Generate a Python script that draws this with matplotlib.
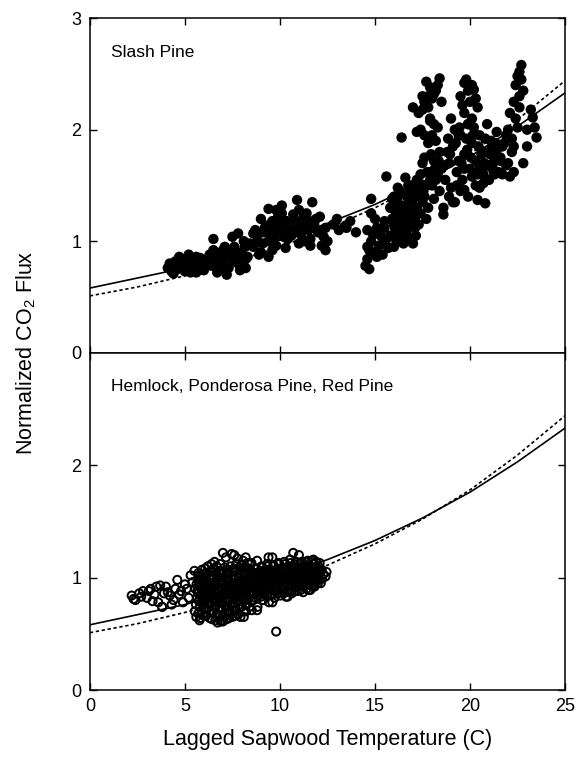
#  Normalized CO2 flux vs lagged sapwood temperature
#   two stacked panels: Slash Pine (filled) and Hemlock / Ponderosa / Red Pine (open)

import matplotlib
matplotlib.use("Agg")
import matplotlib.pyplot as plt

plt.rcParams['font.family'] = ['Liberation Sans', 'DejaVu Sans']
plt.rcParams['mathtext.default'] = 'regular'

# fitted curves, every 2.5 C
curve_temp = [0, 2.5, 5, 7.5, 10, 12.5, 15, 17.5, 20, 22.5, 25]
solid_fit = [0.58, 0.67, 0.76, 0.88, 1.01, 1.16, 1.33, 1.53, 1.76, 2.03, 2.33]
dotted_fit = [0.51, 0.59, 0.69, 0.81, 0.95, 1.11, 1.30, 1.52, 1.78, 2.09, 2.44]

# ---- Slash Pine ----
slash_temp = [
    4.1, 4.2, 4.3, 4.4, 4.5, 4.6, 4.7, 4.8, 4.9, 5.0, 5.1, 5.2, 5.3, 5.4, 5.5, 5.6, 5.7, 5.8, 5.9, 6.0,
    4.4, 4.7, 5.0, 5.2, 5.5, 5.8, 4.9, 5.3, 5.6, 6.0,
    6.2, 6.4, 6.6, 6.8, 7.0, 7.2, 7.4, 7.6, 7.8, 8.0, 8.2, 8.4, 6.5, 6.9, 7.3, 7.7, 8.1, 6.7, 7.1, 7.5,
    7.9, 8.3, 6.3, 7.0, 7.6, 8.2, 7.8, 7.5, 6.5, 8.6,
    8.6, 8.8, 9.0, 9.2, 9.4, 9.6, 9.8, 10.0, 10.2, 10.4, 8.7, 9.1, 9.5, 9.9, 10.3, 8.9, 9.3, 9.7, 10.1, 10.5,
    9.0, 9.6, 10.2, 8.8, 9.4, 10.0, 9.4, 10.1, 10.9, 9.8,
    10.6, 10.8, 11.0, 11.2, 11.4, 11.6, 11.8, 12.0, 12.2, 12.4, 10.7, 11.1, 11.5, 11.9, 12.3, 10.9, 11.3, 11.7, 12.1, 11.0,
    11.6, 12.5, 11.7, 11.2, 12.4,
    12.8, 13.1, 13.4, 13.7, 14.0, 13.0, 13.5,
    14.5, 14.6, 14.7, 14.8, 14.9, 15.0, 15.1, 15.2, 15.3, 15.4, 15.5, 15.6, 15.7, 14.6, 14.8, 15.0, 15.2, 15.4, 14.7, 15.1,
    15.5, 14.8, 15.6, 14.6,
    15.8, 15.9, 16.0, 16.1, 16.2, 16.3, 16.4, 16.5, 16.6, 16.7, 16.8, 16.9, 17.0, 17.1, 17.2,
    15.9, 16.1, 16.3, 16.5, 16.7, 16.9, 17.1, 16.0, 16.2, 16.4, 16.6, 16.8, 17.0, 17.2,
    16.1, 16.5, 16.9, 16.3, 16.7, 17.1, 16.4, 16.6, 15.8, 16.0,
    17.3, 17.4, 17.5, 17.6, 17.7, 17.8, 17.9, 18.0, 18.1, 18.2, 18.3, 18.4, 18.5,
    17.4, 17.6, 17.8, 18.0, 18.2, 18.4, 17.5, 17.9, 18.3, 17.7, 18.1, 18.6, 17.3, 17.9,
    17.0, 17.3, 17.5, 17.7, 17.9, 18.1, 18.3, 18.4, 17.6, 17.8, 18.0, 18.2, 17.4, 17.6, 17.9, 18.1, 17.2, 17.5, 17.8, 18.5,
    19.5, 19.7, 19.9, 20.1, 20.3, 19.6, 19.8, 20.0, 20.2, 19.7, 20.1, 20.4, 19.9,
    18.7, 18.9, 19.1, 19.3, 19.5, 19.7, 19.9, 20.1, 20.3, 20.5, 20.7, 20.9, 21.1, 21.3, 21.5, 21.7,
    18.8, 19.0, 19.2, 19.4, 19.6, 19.8, 20.0, 20.2, 20.4, 20.6, 20.8, 21.0, 21.2, 21.4, 21.6,
    18.9, 19.3, 19.7, 20.1, 20.5, 20.9, 21.3, 19.1, 19.5, 19.9, 20.3, 20.7, 21.1, 21.5, 18.6, 19.0, 19.4,
    21.6, 21.8, 22.0, 22.2, 22.4, 22.6, 22.7, 22.5, 22.3, 22.1, 21.9, 22.0, 22.2, 22.4, 22.6, 22.8, 22.5, 22.3, 22.7, 22.6,
    21.7, 21.9, 22.1, 22.3, 23.0, 23.2, 23.3, 23.5, 22.8, 23.0, 23.4, 20.7, 20.8, 21.2, 21.4,
    19.7, 20.4, 19.2, 20.5,
    16.05, 16.25, 16.45, 16.65, 16.85, 17.05, 16.15, 16.35, 16.55, 16.75, 16.95, 17.15,
    18.65, 18.95, 19.25, 19.55, 19.85, 20.15, 20.45, 20.75, 21.05, 21.35, 18.85, 19.45, 20.05, 20.65, 21.25,
    17.35, 17.55, 17.75, 17.95, 18.15, 18.35,
    4.45, 4.85, 5.25, 5.65, 6.15, 6.55, 6.95, 7.35, 7.75, 8.15,
    9.15, 9.55, 9.95, 10.35, 10.75, 11.15, 11.55, 11.95,
]
slash_flux = [
    0.76, 0.80, 0.73, 0.78, 0.82, 0.75, 0.79, 0.84, 0.77, 0.81, 0.74, 0.79, 0.83, 0.76, 0.80, 0.72, 0.78, 0.85, 0.75, 0.81,
    0.71, 0.86, 0.73, 0.88, 0.84, 0.77, 0.80, 0.72, 0.86, 0.74,
    0.82, 0.78, 0.88, 0.74, 0.92, 0.70, 0.85, 0.95, 0.80, 0.90, 0.76, 0.98, 0.92, 0.83, 0.76, 0.88, 1.00, 0.72, 0.95, 0.82,
    0.74, 0.86, 0.88, 0.79, 0.92, 0.84, 1.07, 1.04, 1.02, 1.07,
    0.95, 1.05, 0.90, 1.12, 1.00, 1.18, 0.96, 1.08, 1.15, 1.02, 1.10, 0.98, 1.06, 1.22, 0.94, 0.88, 1.14, 1.02, 1.25, 1.10,
    1.20, 0.92, 1.04, 1.00, 0.86, 1.16, 1.29, 1.32, 1.37, 1.28,
    1.05, 1.18, 0.98, 1.12, 1.25, 1.02, 1.15, 1.08, 0.96, 1.12, 1.24, 1.06, 1.10, 1.20, 1.04, 1.12, 1.00, 1.14, 1.22, 1.28,
    0.96, 1.00, 1.35, 1.20, 0.92,
    1.15, 1.10, 1.13, 1.18, 1.08, 1.20, 1.12,
    0.78, 0.84, 0.92, 1.00, 1.06, 0.90, 1.12, 0.96, 1.05, 0.88, 1.18, 1.02, 0.94, 1.10, 1.25, 1.20, 1.08, 0.98, 0.75, 0.86,
    1.12, 1.38, 1.58, 0.95,
    1.05, 1.20, 0.95, 1.32, 1.10, 1.00, 1.25, 1.42, 1.15, 1.05, 1.35, 1.22, 1.48, 1.12, 1.30,
    1.38, 1.02, 1.45, 0.98, 1.28, 1.02, 1.40, 1.15, 1.48, 1.08, 1.57, 1.18, 0.98, 1.55,
    1.25, 1.30, 1.50, 1.18, 1.40, 1.20, 1.93, 1.00, 1.30, 1.40,
    1.45, 1.60, 1.35, 1.75, 1.50, 1.88, 1.62, 1.95, 1.72, 1.55, 2.02, 1.80, 1.65,
    1.25, 1.40, 1.30, 1.50, 1.90, 1.45, 1.70, 2.08, 1.60, 1.20, 1.38, 1.24, 1.15, 1.55,
    2.20, 2.15, 2.30, 2.43, 2.38, 2.32, 2.40, 2.46, 2.25, 2.20, 2.28, 2.35, 2.00, 1.95, 2.10, 2.05, 1.98, 2.18, 2.30, 2.25,
    2.30, 2.42, 2.35, 2.40, 2.28, 2.22, 2.45, 2.25, 2.36, 2.15, 2.10, 2.20, 2.05,
    1.55, 1.70, 1.85, 1.62, 1.95, 1.78, 2.05, 1.88, 1.72, 1.95, 1.80, 1.68, 1.90, 1.75, 1.62, 1.85,
    1.80, 1.48, 2.00, 1.72, 1.55, 1.92, 1.65, 2.02, 1.60, 1.78, 1.92, 1.55, 1.70, 1.98, 1.72,
    1.40, 1.50, 1.65, 1.58, 1.65, 2.05, 1.60, 1.35, 1.45, 1.40, 1.50, 1.60, 1.82, 1.75, 1.30, 2.10, 1.95,
    1.75, 1.88, 2.00, 1.92, 2.10, 2.30, 2.58, 2.48, 2.25, 2.15, 1.95, 1.70, 1.80, 2.40, 2.20, 2.35, 2.02, 1.62, 2.45, 2.52,
    1.60, 1.68, 1.58, 1.85, 2.00, 2.18, 2.11, 1.93, 1.70, 1.85, 2.02, 1.52, 1.34, 1.65, 1.82,
    1.46, 1.37, 1.35, 1.48,
    1.12, 1.22, 1.32, 1.10, 1.42, 1.25, 1.38, 1.12, 1.20, 1.50, 1.35, 1.05,
    1.68, 1.78, 1.88, 1.70, 1.82, 1.95, 1.85, 1.70, 1.78, 1.88, 1.92, 2.02, 1.75, 1.62, 1.62,
    1.52, 1.45, 1.62, 1.78, 1.65, 1.72,
    0.79, 0.78, 0.81, 0.79, 0.84, 0.80, 0.86, 0.90, 0.86, 0.95,
    1.08, 1.12, 1.10, 1.18, 1.12, 1.15, 1.18, 1.10,
]

# ---- Hemlock, Ponderosa Pine, Red Pine ----
hem_temp = [
    2.2, 2.4, 2.6, 2.8, 3.0, 3.2, 3.4, 3.6, 3.8, 4.0, 4.2, 4.4, 4.6, 4.8, 5.0, 5.2, 5.4,
    2.3, 2.7, 3.1, 3.5, 3.9, 4.3, 4.7, 5.1, 3.3, 3.7, 4.1, 4.5, 4.9, 5.3,
    5.52, 5.58, 5.64, 5.70, 5.55, 5.61, 5.67, 5.73, 5.50, 5.60, 5.66, 5.75,
    5.82, 5.88, 5.94, 6.00, 5.85, 5.91, 5.97, 6.03, 5.80, 5.90, 5.96, 6.05,
    6.12, 6.18, 6.24, 6.30, 6.15, 6.21, 6.27, 6.33, 6.10, 6.20, 6.26, 6.35,
    6.42, 6.48, 6.54, 6.60, 6.45, 6.51, 6.57, 6.63, 6.40, 6.50, 6.56, 6.65,
    6.72, 6.78, 6.84, 6.90, 6.75, 6.81, 6.87, 6.93, 6.70, 6.80, 6.86, 6.95,
    7.02, 7.08, 7.14, 7.20, 7.05, 7.11, 7.17, 7.23, 7.00, 7.10, 7.16, 7.25,
    7.32, 7.38, 7.44, 7.50, 7.35, 7.41, 7.47, 7.53, 7.30, 7.40, 7.46, 7.55,
    7.62, 7.68, 7.74, 7.80, 7.65, 7.71, 7.77, 7.83, 7.60, 7.70, 7.76, 7.85,
    7.92, 7.98, 8.04, 8.10, 7.95, 8.01, 8.07, 8.13, 7.90, 8.00, 8.06, 8.15,
    8.22, 8.28, 8.34, 8.40, 8.25, 8.31, 8.37, 8.43, 8.20, 8.30, 8.36, 8.45,
    8.52, 8.58, 8.64, 8.70, 8.55, 8.61, 8.67, 8.73, 8.50, 8.62,
    8.82, 8.88, 8.94, 9.00, 8.85, 8.91, 8.97, 9.03, 8.80, 8.92,
    9.12, 9.18, 9.24, 9.30, 9.15, 9.21, 9.27, 9.33, 9.10,
    9.42, 9.48, 9.54, 9.60, 9.45, 9.51, 9.57, 9.63, 9.40,
    9.72, 9.78, 9.84, 9.90, 9.75, 9.81, 9.87, 9.93, 9.80,
    10.02, 10.08, 10.14, 10.20, 10.05, 10.11, 10.17, 10.23,
    10.32, 10.38, 10.44, 10.50, 10.35, 10.41, 10.47, 10.53,
    10.62, 10.68, 10.74, 10.80, 10.65, 10.71, 10.77, 10.70,
    10.92, 10.98, 11.04, 11.10, 10.95, 11.01, 11.07, 11.00,
    11.22, 11.28, 11.34, 11.40, 11.25, 11.31, 11.37,
    11.52, 11.58, 11.64, 11.70, 11.55, 11.61, 11.67,
    11.82, 11.88, 11.94, 12.00, 11.85, 11.91,
    12.15, 12.22, 12.28, 12.20,
    12.40, 12.45,
    7.0, 6.4, 5.8, 7.0, 3.8, 9.6, 11.9, 8.8, 9.6, 8.1, 11.6, 10.4, 7.6, 8.2,
    5.70, 5.78, 5.74, 5.81, 5.72, 5.79, 5.76, 5.83, 5.71, 5.77,
    6.00, 6.08, 6.04, 6.11, 6.02, 6.09, 6.06, 6.13, 6.01, 6.07,
    6.30, 6.38, 6.34, 6.41, 6.32, 6.39, 6.36, 6.43, 6.31, 6.37,
    6.60, 6.68, 6.64, 6.71, 6.62, 6.69, 6.66, 6.73, 6.61, 6.67,
    6.90, 6.98, 6.94, 7.01, 6.92, 6.99, 6.96, 7.03, 6.91, 6.97,
    7.20, 7.28, 7.24, 7.31, 7.22, 7.29, 7.26, 7.33, 7.21, 7.27,
    7.50, 7.58, 7.54, 7.61, 7.52, 7.59, 7.56, 7.63, 7.51, 7.57,
    7.80, 7.88, 7.84, 7.91, 7.82, 7.89, 7.86, 7.93, 7.81, 7.87,
    8.10, 8.18, 8.14, 8.21, 8.12, 8.19, 8.16, 8.23, 8.11, 8.17,
    8.40, 8.48, 8.44, 8.51, 8.42, 8.49, 8.46, 8.53, 8.41, 8.47,
    8.70, 8.78, 8.74, 8.81, 8.72, 8.79, 8.76,
    9.00, 9.08, 9.04, 9.11, 9.02, 9.09, 9.06,
    9.30, 9.38, 9.34, 9.41, 9.32, 9.39, 9.36,
    9.60, 9.68, 9.64, 9.71, 9.62, 9.69, 9.66,
    9.90, 9.98, 9.94, 10.01, 9.92, 9.99, 9.96,
    10.20, 10.28, 10.24, 10.31, 10.22, 10.29, 10.26,
    10.50, 10.58, 10.54, 10.61, 10.52, 10.59, 10.56,
    10.80, 10.88, 10.84, 10.91, 10.82, 10.89, 10.86,
    11.10, 11.18, 11.14, 11.21, 11.12, 11.19, 11.16,
    11.40, 11.48, 11.44, 11.51, 11.42, 11.49, 11.46,
    11.70, 11.78, 11.74, 11.81, 11.72, 11.79, 11.76,
    12.00, 12.08, 12.04, 12.11, 12.02, 12.09, 12.06,
]
hem_flux = [
    0.84, 0.80, 0.86, 0.88, 0.82, 0.90, 0.85, 0.78, 0.74, 0.92, 0.84, 0.80, 0.98, 0.88, 0.94, 0.82, 0.96,
    0.81, 0.83, 0.88, 0.92, 0.86, 0.76, 0.85, 0.90, 0.79, 0.93, 0.87, 0.90, 0.78, 1.02,
    0.70, 0.76, 0.82, 0.86, 0.90, 0.94, 0.98, 1.02, 1.06, 0.65, 0.88, 0.80,
    0.64, 0.70, 0.75, 0.80, 0.84, 0.88, 0.92, 0.96, 1.00, 1.07, 0.78, 0.90,
    0.66, 0.72, 0.77, 0.82, 0.86, 0.90, 0.95, 0.99, 1.04, 1.10, 0.84, 0.93,
    0.63, 0.69, 0.74, 0.79, 0.84, 0.88, 0.92, 0.97, 1.02, 1.08, 1.14, 0.86,
    0.60, 0.67, 0.73, 0.78, 0.83, 0.87, 0.91, 0.96, 1.01, 1.06, 1.12, 0.89,
    0.62, 0.68, 0.74, 0.79, 0.84, 0.88, 0.93, 0.98, 1.03, 1.09, 1.18, 0.86,
    0.64, 0.70, 0.76, 0.81, 0.85, 0.90, 0.94, 0.99, 1.04, 1.10, 1.21, 0.88,
    0.66, 0.72, 0.78, 0.83, 0.87, 0.91, 0.95, 1.00, 1.05, 1.12, 1.17, 0.92,
    0.65, 0.74, 0.80, 0.85, 0.89, 0.93, 0.97, 1.01, 1.06, 1.11, 1.15, 0.95,
    0.70, 0.77, 0.82, 0.87, 0.91, 0.95, 0.99, 1.03, 1.08, 1.13, 0.93, 0.85,
    0.71, 0.80, 0.86, 0.91, 0.96, 1.00, 1.04, 1.08, 1.13, 0.90,
    0.74, 0.84, 0.89, 0.94, 0.98, 1.02, 1.06, 1.10, 1.15, 0.92,
    0.80, 0.86, 0.91, 0.95, 0.99, 1.03, 1.07, 1.12, 0.97,
    0.78, 0.85, 0.90, 0.94, 0.98, 1.02, 1.06, 1.10, 1.18,
    0.82, 0.88, 0.92, 0.96, 1.00, 1.04, 1.08, 1.13, 0.52,
    0.84, 0.89, 0.93, 0.97, 1.01, 1.05, 1.09, 1.14,
    0.83, 0.88, 0.93, 0.97, 1.01, 1.05, 1.10, 1.16,
    0.86, 0.91, 0.95, 0.99, 1.03, 1.07, 1.12, 1.22,
    0.88, 0.92, 0.96, 1.00, 1.04, 1.08, 1.13, 1.20,
    0.87, 0.93, 0.97, 1.01, 1.05, 1.09, 1.14,
    0.89, 0.94, 0.98, 1.02, 1.06, 1.10, 1.15,
    0.92, 0.96, 1.00, 1.04, 1.08, 1.14,
    0.95, 0.99, 1.03, 1.07,
    1.01, 1.05,
    1.22, 1.12, 0.64, 0.61, 0.74, 1.18, 1.14, 0.71, 0.78, 0.65, 0.89, 0.83, 1.20, 1.18,
    0.68, 0.74, 0.79, 0.84, 0.88, 0.92, 0.96, 1.00, 1.04, 0.62,
    0.66, 0.72, 0.78, 0.83, 0.87, 0.91, 0.95, 0.99, 1.03, 1.08,
    0.64, 0.70, 0.76, 0.81, 0.86, 0.90, 0.94, 0.98, 1.02, 1.06,
    0.62, 0.68, 0.75, 0.80, 0.85, 0.89, 0.94, 0.99, 1.04, 1.10,
    0.61, 0.66, 0.72, 0.77, 0.82, 0.86, 0.90, 0.95, 1.00, 1.05,
    0.63, 0.69, 0.75, 0.80, 0.85, 0.89, 0.93, 0.97, 1.02, 1.07,
    0.65, 0.71, 0.77, 0.82, 0.86, 0.90, 0.94, 0.98, 1.02, 1.08,
    0.67, 0.73, 0.79, 0.84, 0.88, 0.92, 0.96, 1.00, 1.04, 1.09,
    0.70, 0.76, 0.81, 0.86, 0.90, 0.94, 0.98, 1.02, 1.06, 1.10,
    0.74, 0.79, 0.84, 0.88, 0.92, 0.96, 1.00, 1.04, 1.08, 1.12,
    0.82, 0.87, 0.92, 0.96, 1.00, 1.04, 1.08,
    0.83, 0.88, 0.92, 0.96, 1.00, 1.04, 1.09,
    0.84, 0.89, 0.93, 0.97, 1.01, 1.05, 1.10,
    0.85, 0.90, 0.94, 0.98, 1.02, 1.06, 1.11,
    0.86, 0.90, 0.95, 0.99, 1.03, 1.07, 1.12,
    0.86, 0.91, 0.95, 0.99, 1.03, 1.07, 1.12,
    0.87, 0.92, 0.96, 1.00, 1.04, 1.08, 1.13,
    0.88, 0.92, 0.96, 1.00, 1.04, 1.09, 1.14,
    0.89, 0.93, 0.97, 1.01, 1.05, 1.09, 1.14,
    0.90, 0.94, 0.98, 1.02, 1.06, 1.10, 1.15,
    0.92, 0.96, 1.00, 1.04, 1.08, 1.12, 1.16,
    0.95, 0.98, 1.02, 1.06, 1.10, 1.13, 1.04,
]

xticks = [0, 5, 10, 15, 20, 25]


def style_axis(ax, yticks, show_x):
    ax.set_xlim(0, 25)
    ax.set_ylim(0, 3)
    ax.set_xticks(xticks)
    ax.set_yticks(yticks)
    ax.tick_params(direction='in', length=5, width=1, top=True, right=True,
                   labelsize=13, pad=6, labelbottom=show_x)
    for sp in ax.spines.values():
        sp.set_linewidth(1.1)


def main():
    fig = plt.figure(figsize=(5.76, 7.57), dpi=100)
    ax1 = fig.add_axes([0.156, 0.534, 0.825, 0.442])
    ax2 = fig.add_axes([0.156, 0.0885, 0.825, 0.4455])

    # top panel: filled circles
    ax1.plot(curve_temp, solid_fit, color='black', lw=1.2, zorder=1)
    ax1.plot(curve_temp, dotted_fit, color='black', lw=1.2, ls=(0, (2, 1.6)), zorder=1)
    ax1.scatter(slash_temp, slash_flux, s=56, c='black', edgecolors='none', zorder=2)
    ax1.text(1.1, 2.69, 'Slash Pine', fontsize=12.5, va='center')
    style_axis(ax1, [0, 1, 2, 3], False)

    # bottom panel: open circles
    ax2.plot(curve_temp, solid_fit, color='black', lw=1.2, zorder=1)
    ax2.plot(curve_temp, dotted_fit, color='black', lw=1.2, ls=(0, (2, 1.6)), zorder=1)
    ax2.scatter(hem_temp, hem_flux, s=34, facecolors='none', edgecolors='black',
                linewidths=1.4, zorder=2)
    ax2.text(1.1, 2.7, 'Hemlock, Ponderosa Pine, Red Pine', fontsize=12.5, va='center')
    style_axis(ax2, [0, 1, 2], True)

    ax2.set_xlabel('Lagged Sapwood Temperature (C)', fontsize=15.5, labelpad=10)
    fig.text(0.045, 0.534, 'Normalized CO$_2$ Flux', rotation=90, fontsize=15.5,
             ha='center', va='center')

    fig.savefig('out.png', dpi=100)


main()
